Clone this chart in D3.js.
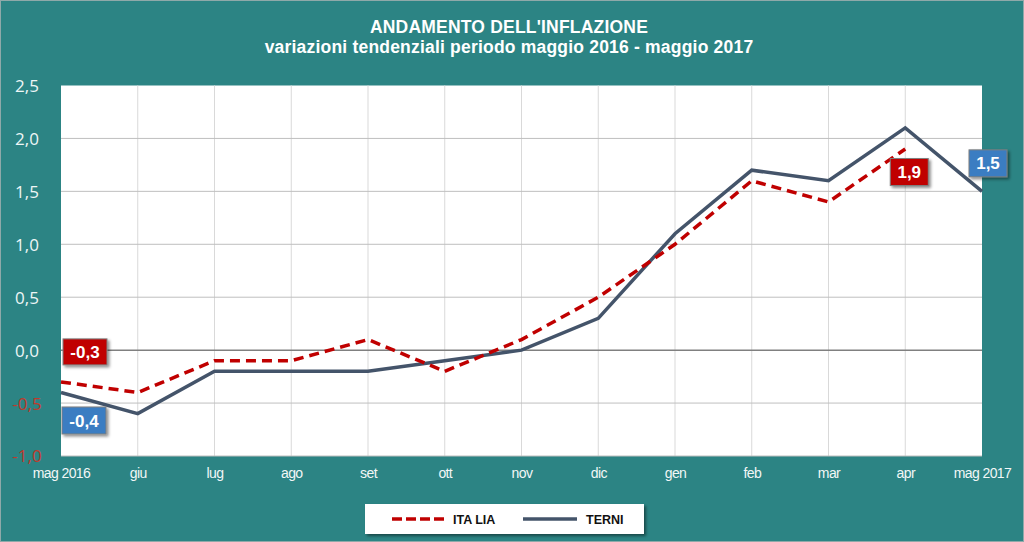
<!DOCTYPE html>
<html><head><meta charset="utf-8">
<script src="https://cdn.jsdelivr.net/npm/d3@7"></script>
<style>body{margin:0;background:#2b8383;}svg{display:block;}</style>
</head><body>
<svg id="c" width="1024" height="542"></svg>
<script>
const categories = ["mag 2016","giu","lug","ago","set","ott","nov","dic","gen","feb","mar","apr","mag 2017"];
const italia = [-0.3,-0.4,-0.1,-0.1,0.1,-0.2,0.1,0.5,1.0,1.6,1.4,1.9,null];
const terni = [-0.4,-0.6,-0.2,-0.2,-0.2,-0.1,0.0,0.3,1.1,1.7,1.6,2.1,1.5];
const yTicks = [-1.0,-0.5,0.0,0.5,1.0,1.5,2.0,2.5];

const svg = d3.select("#c");
const W=1024,H=542;
const teal="#2c8484";
svg.append("rect").attr("width",W).attr("height",H).attr("fill",teal);
svg.append("rect").attr("x",0.5).attr("y",0.5).attr("width",W-1).attr("height",H-1).attr("fill","none").attr("stroke","#8fa9a9").attr("stroke-width",1);

const L=61,R=982,T=85.5,B=456;
const x=d3.scalePoint().domain(categories).range([L,R]);
const y=d3.scaleLinear().domain([-1,2.5]).range([B,T]);

svg.append("rect").attr("x",L).attr("y",T).attr("width",R-L).attr("height",B-T).attr("fill","#fff");

// gridlines
svg.append("g").selectAll("line").data(categories.slice(1,-1)).join("line")
 .attr("x1",d=>x(d)).attr("x2",d=>x(d)).attr("y1",T).attr("y2",B)
 .attr("stroke","#d9d9d9").attr("stroke-width",1);
svg.append("g").selectAll("line").data(yTicks.filter(v=>v!==0&&v!==2.5)).join("line")
 .attr("x1",L).attr("x2",R).attr("y1",d=>y(d)).attr("y2",d=>y(d))
 .attr("stroke","#bfbfbf").attr("stroke-width",1);
svg.append("line").attr("x1",L).attr("x2",R).attr("y1",y(0)).attr("y2",y(0)).attr("stroke","#808080").attr("stroke-width",1.5);

// y axis labels
const yAxis=d3.axisLeft(y).tickValues(yTicks).tickSize(0).tickPadding(0).tickFormat(d=>d3.format(".1f")(d).replace(".",",").replace("−","-"));
const ga=svg.append("g").attr("transform",`translate(27,0)`).call(yAxis);
ga.select(".domain").remove();
ga.selectAll("text").attr("text-anchor","middle").attr("font-family","'Open Sans',sans-serif").attr("font-size",17)
 .attr("fill",d=>d<0?"#c0392b":"#eef6f6").attr("dy","0.35em");

// x axis labels
const xAxis=d3.axisBottom(x).tickSize(0).tickPadding(0);
const gx=svg.append("g").attr("transform",`translate(0,${B+22})`).call(xAxis);
gx.select(".domain").remove();
gx.selectAll("text").attr("font-family","'Liberation Sans',Arial,sans-serif").attr("font-size",14)
 .attr("letter-spacing","-0.6px").attr("fill","#f2f7f7").attr("dy","0");

// title
svg.append("text").attr("x",509).attr("y",33).attr("text-anchor","middle").attr("font-family","'Liberation Sans',Arial,sans-serif")
 .attr("font-weight","bold").attr("font-size",17.5).attr("letter-spacing","0.2px").attr("fill","#fff").text("ANDAMENTO DELL'INFLAZIONE");
svg.append("text").attr("x",509).attr("y",53).attr("text-anchor","middle").attr("font-family","'Liberation Sans',Arial,sans-serif")
 .attr("font-weight","bold").attr("font-size",17.5).attr("letter-spacing","0.2px").attr("fill","#fff").text("variazioni tendenziali periodo maggio 2016 - maggio 2017");

// lines
const line=d3.line().defined(d=>d.v!=null).x(d=>x(d.c)).y(d=>y(d.v));
const tD=categories.map((c,i)=>({c,v:terni[i]}));
const iD=categories.map((c,i)=>({c,v:italia[i]}));
svg.append("path").datum(tD).attr("d",line).attr("fill","none").attr("stroke","#44546a").attr("stroke-width",3.5).attr("stroke-linejoin","miter");
svg.append("path").datum(iD).attr("d",line).attr("fill","none").attr("stroke","#c00000").attr("stroke-width",3.5).attr("stroke-dasharray","10,6");

// shadow filter
const defs=svg.append("defs");
const f=defs.append("filter").attr("id","sh").attr("x","-20%").attr("y","-20%").attr("width","150%").attr("height","160%");
f.append("feDropShadow").attr("dx",2).attr("dy",2).attr("stdDeviation",1.5).attr("flood-color","#000").attr("flood-opacity",0.45);

// data labels
function label(cx,cy,w,h,fill,txt){
  svg.append("rect").attr("x",cx-w/2).attr("y",cy-h/2).attr("width",w).attr("height",h).attr("fill",fill)
   .attr("stroke","#7f7f7f").attr("stroke-width",1).attr("filter","url(#sh)");
  svg.append("text").attr("x",cx).attr("y",cy).attr("dy","0.36em").attr("text-anchor","middle")
   .attr("font-family","'Liberation Sans',Arial,sans-serif").attr("font-weight","bold").attr("font-size",17).attr("fill","#fff").text(txt);
}
const fmt=v=>d3.format(".1f")(v).replace(".",",").replace("−","-");
label(x(categories[0])+24, y(italia[0])-30, 44, 26, "#c00000", fmt(italia[0]));
label(x(categories[0])+23, y(terni[0])+28, 44, 27, "#3a7dc2", fmt(terni[0]));
label(x(categories[11])+4, y(italia[11])+23, 38, 27, "#c00000", fmt(italia[11]));
label(x(categories[12])+6, y(terni[12])-28, 38, 27, "#3a7dc2", fmt(terni[12]));

// legend
const lg=svg.append("g");
lg.append("rect").attr("x",365).attr("y",504).attr("width",279).attr("height",30).attr("fill","#fff").attr("filter","url(#sh)");
lg.append("line").attr("x1",392).attr("x2",445).attr("y1",519).attr("y2",519).attr("stroke","#c00000").attr("stroke-width",3.5).attr("stroke-dasharray","10,4");
lg.append("text").attr("x",453).attr("y",519).attr("dy","0.36em").attr("font-family","'Liberation Sans',Arial,sans-serif").attr("font-weight","bold").attr("font-size",12.5).attr("fill","#111").text("ITA LIA");
lg.append("line").attr("x1",523).attr("x2",577).attr("y1",519).attr("y2",519).attr("stroke","#44546a").attr("stroke-width",3.5);
lg.append("text").attr("x",586).attr("y",519).attr("dy","0.36em").attr("font-family","'Liberation Sans',Arial,sans-serif").attr("font-weight","bold").attr("font-size",12.5).attr("fill","#111").text("TERNI");
</script>
</body></html>
